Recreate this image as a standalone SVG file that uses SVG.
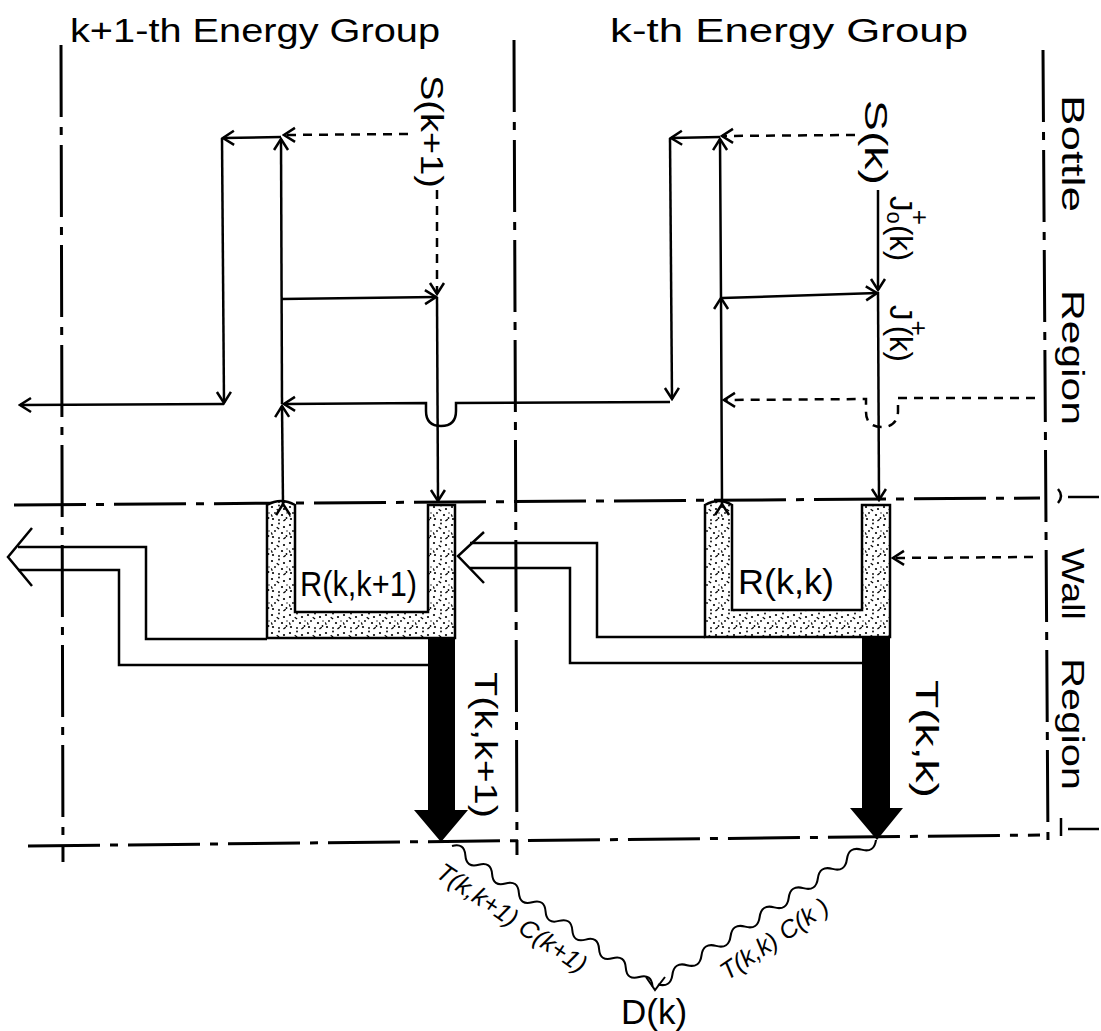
<svg xmlns="http://www.w3.org/2000/svg" width="1101" height="1031" viewBox="0 0 1101 1031">
<style>
text{font-family:"Liberation Sans","DejaVu Sans",Arial,sans-serif;fill:#000}
.ln{fill:none;stroke:#000;stroke-width:2.5;stroke-linejoin:miter}
.ds{fill:none;stroke:#000;stroke-width:2.5;stroke-dasharray:9 7}
.dd{fill:none;stroke:#000;stroke-width:3;stroke-dasharray:72 10 8 10}
.ttl{font-size:33px}
.lab{font-size:32px}
.wv{fill:none;stroke:#000;stroke-width:2}
.it{font-size:25px;font-style:italic}
</style>
<defs>
<marker id="ah" viewBox="-13 -9 15 18" markerWidth="15" markerHeight="18" refX="0" refY="0" orient="auto" markerUnits="userSpaceOnUse">
<path d="M-11,-7 L0,0 L-11,7" fill="none" stroke="#000" stroke-width="2.5" stroke-dasharray="none"/>
</marker>
<pattern id="stip" width="18" height="18" patternUnits="userSpaceOnUse">
<rect width="18" height="18" fill="#fff"/>
<g fill="#000">
<circle cx="2" cy="3" r="1.1"/><circle cx="9" cy="1.5" r="0.9"/><circle cx="14" cy="5" r="1.1"/>
<circle cx="5" cy="9" r="0.9"/><circle cx="12" cy="11" r="1.1"/><circle cx="16.5" cy="14" r="0.9"/>
<circle cx="3" cy="15" r="1.1"/><circle cx="9" cy="16" r="0.9"/><circle cx="17" cy="9" r="0.7"/>
<rect x="6.5" y="5.5" width="3" height="1.3" transform="rotate(35 8 6)"/>
<rect x="13" y="15.5" width="3" height="1.3" transform="rotate(-40 14.5 16)"/>
<rect x="0.5" y="11" width="2.6" height="1.2" transform="rotate(70 1.8 11.6)"/>
</g>
</pattern>
</defs>

<g id="boundaries">
<line class="dd" x1="61" y1="45" x2="63" y2="862"/>
<line class="dd" x1="514" y1="40" x2="517" y2="855"/>
<line class="dd" x1="1043" y1="50" x2="1048" y2="845"/>
<line class="dd" x1="14" y1="505" x2="1040" y2="498"/>
<line class="dd" x1="28" y1="846" x2="1040" y2="835"/>
<path class="ln" d="M1058,489 Q1064,496 1058,503"/>
<line class="ln" x1="1068" y1="497" x2="1099" y2="497"/>
<line class="ln" x1="1061" y1="818" x2="1061" y2="836"/>
<line class="ln" x1="1068" y1="829" x2="1099" y2="829"/>
</g>

<g id="title-k1"><text class="ttl" x="70" y="42" textLength="370" lengthAdjust="spacingAndGlyphs">k+1-th Energy Group</text></g>
<g id="title-k"><text class="ttl" x="610" y="42" textLength="358" lengthAdjust="spacingAndGlyphs">k-th Energy Group</text></g>

<g id="label-bottle-region">
<text class="lab" transform="translate(1062,95) rotate(90)" textLength="117" lengthAdjust="spacingAndGlyphs">Bottle</text>
<text class="lab" transform="translate(1062,290) rotate(90)" textLength="135" lengthAdjust="spacingAndGlyphs">Region</text>
</g>
<g id="label-wall-region">
<text class="lab" transform="translate(1062,548) rotate(90)" textLength="72" lengthAdjust="spacingAndGlyphs">Wall</text>
<text class="lab" transform="translate(1062,658) rotate(90)" textLength="132" lengthAdjust="spacingAndGlyphs">Region</text>
</g>

<g id="source-k1"><text class="lab" transform="translate(421,75) rotate(90)" textLength="113" lengthAdjust="spacingAndGlyphs">S(k+1)</text></g>
<g id="source-k"><text class="lab" transform="translate(865,100) rotate(90)" textLength="85" lengthAdjust="spacingAndGlyphs">S(k)</text></g>
<g id="j0-k"><text transform="translate(890,196) rotate(90)" font-size="31">J<tspan font-size="22" dy="3">o</tspan><tspan font-size="26" dx="-14" dy="-24">+</tspan><tspan dy="21">(k)</tspan></text></g>
<g id="j-k"><text transform="translate(890,305) rotate(90)" font-size="31">J<tspan font-size="26" dy="-20">+</tspan><tspan dx="-10" dy="20">(k)</tspan></text></g>

<g id="wall-k1">
<path d="M267,505 Q281,497 295,505 L295,612 L428,612 L428,505 L455,505 L455,638 L267,638 Z" fill="url(#stip)" stroke="#000" stroke-width="2.5"/>
<text x="300" y="596" font-size="35" textLength="117" lengthAdjust="spacingAndGlyphs">R(k,k+1)</text>
</g>
<g id="wall-k">
<path d="M705,505 Q719,497 732,505 L732,610 L862,610 L862,505 L890,505 L890,637 L705,637 Z" fill="url(#stip)" stroke="#000" stroke-width="2.5"/>
<text x="738" y="594" font-size="35" textLength="96" lengthAdjust="spacingAndGlyphs">R(k,k)</text>
</g>
<g id="trans-k1">
<path d="M428,638 L455,638 L455,810 L468,810 L441,842 L414,810 L428,810 Z" fill="#000"/>
<text class="lab" transform="translate(475,672) rotate(90)" textLength="146" lengthAdjust="spacingAndGlyphs">T(k,k+1)</text>
</g>
<g id="trans-k">
<path d="M862,637 L890,637 L890,808 L903,808 L877,840 L850,808 L862,808 Z" fill="#000"/>
<text class="lab" transform="translate(916,680) rotate(90)" textLength="118" lengthAdjust="spacingAndGlyphs">T(k,k)</text>
</g>
<g id="detector">
<text x="654" y="1024" font-size="35" text-anchor="middle">D(k)</text>
</g>

<g id="connectors">
<path class="ds" d="M408,134 L284,135" marker-end="url(#ah)"/>
<path class="ln" d="M281,137 L223,138" marker-end="url(#ah)"/>
<path class="ln" d="M222,138 L224,403" marker-end="url(#ah)"/>
<path class="ln" d="M224,404 L20,405" marker-end="url(#ah)"/>
<path class="ln" d="M283,504 L282,406" marker-start="url(#ah)" marker-end="url(#ah)"/>
<path class="ln" d="M282,404 L281,139" marker-end="url(#ah)"/>
<path class="ln" d="M281,299 L436,297" marker-end="url(#ah)"/>
<path class="ds" d="M437,190 L437,294" marker-end="url(#ah)"/>
<path class="ln" d="M437,297 L438,501" marker-end="url(#ah)"/>
<path class="ln" d="M670,402 L456,403 L456,411 Q456,426 441,426 Q426,426 426,411 L426,403 L284,404" marker-end="url(#ah)"/>
<path class="ds" d="M855,135 L722,136" marker-end="url(#ah)"/>
<path class="ln" d="M720,137 L671,138" marker-end="url(#ah)"/>
<path class="ln" d="M670,138 L672,399" marker-end="url(#ah)"/>
<path class="ln" d="M722,504 L721,298 L720,139" marker-start="url(#ah)" marker-mid="url(#ah)" marker-end="url(#ah)"/>
<path class="ln" d="M722,298 L877,293" marker-end="url(#ah)"/>
<path class="ln" d="M878,190 L878,290" marker-end="url(#ah)"/>
<path class="ln" d="M878,292 L879,500" marker-end="url(#ah)"/>
<path class="ds" d="M1035,398 L898,398 L898,412 Q897,427 882,427 Q866,427 866,412 L866,399 L724,400" marker-end="url(#ah)"/>
<path class="ds" d="M1033,557 L893,558" marker-end="url(#ah)"/>
<path class="ln" d="M267,639 L146,639 L146,547 L18,547"/>
<path class="ln" d="M428,665 L119,665 L119,570 L18,570"/>
<path class="ln" d="M32,528 L8,557 L32,586"/>
<path class="ln" d="M705,637 L597,637 L597,543 L470,543"/>
<path class="ln" d="M862,663 L570,663 L570,568 L470,568"/>
<path class="ln" d="M484,532 L458,556 L484,583"/>
<path class="wv" transform="translate(452,846) rotate(35) scale(1.02,1)" d="M0,0 q8,-10 16,0 t16,0 t16,0 t16,0 t16,0 t16,0 t16,0 t16,0 t16,0 t16,0 t16,0 t16,0 t16,0 t16,0 t16,0"/>
<path class="wv" transform="translate(876,840) rotate(146.5) scale(1.09,1)" d="M0,0 q8,-10 16,0 t16,0 t16,0 t16,0 t16,0 t16,0 t16,0 t16,0 t16,0 t16,0 t16,0 t16,0 t16,0 t16,0 t16,0"/>
<path class="wv" d="M646,977 L655,990 L665,977"/>
<text class="it" transform="translate(507,925) rotate(34)" text-anchor="middle">T(k,k+1) C(k+1)</text>
<text class="it" transform="translate(779,946) rotate(-34)" text-anchor="middle">T(k,k) C(k )</text>
</g>
</svg>
